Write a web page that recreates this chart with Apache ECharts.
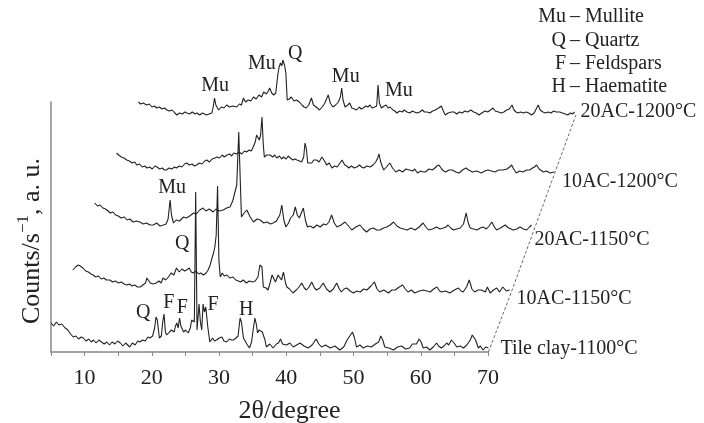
<!DOCTYPE html>
<html>
<head>
<meta charset="utf-8">
<title>XRD patterns</title>
<script src="https://cdn.jsdelivr.net/npm/echarts@6/dist/echarts.min.js"></script>
<style>
html,body{margin:0;padding:0;background:#fff}
#xrd{width:704px;height:423px}
</style>
</head>
<body>
<div id="xrd"></div>
<script>
// bottom axis ticks (2θ, degree)
var thetaTicks = [10, 20, 30, 40, 50, 60, 70];
var sampleNames = ['Tile clay-1100°C', '10AC-1150°C', '20AC-1150°C', '10AC-1200°C', '20AC-1200°C'];
// patterns are stacked: each one shifted right (degree) and up (counts)
var xShift = [0, 3.25, 6.5, 9.75, 13.0];
var yShift = [0, 57, 117, 177, 237];

// [2θ, counts], per sample
var tileClay1100 = [[5.0,29],[5.4,26],[5.8,30],[6.2,27],[6.6,28],[7.1,24],[7.5,22],[7.9,18],[8.3,15],[8.7,16],[9.1,13],[9.5,15],[9.8,14],[10.2,11],[10.6,13],[11.0,10],[11.3,12],[11.7,9],[12.1,12],[12.5,10],[12.9,8],[13.3,10],[13.7,7],[14.1,10],[14.5,8],[14.9,11],[15.3,9],[15.7,6],[16.1,9],[16.4,7],[16.7,5],[17.1,9],[17.5,7],[17.9,11],[18.2,10],[18.6,12],[19.0,11],[19.4,15],[19.7,14],[20.1,16],[20.4,24],[20.6,35],[20.8,32],[21.1,14],[21.4,16],[21.6,30],[21.8,38],[22.0,20],[22.2,17],[22.6,20],[22.9,22],[23.3,20],[23.5,26],[23.7,29],[23.9,24],[24.1,34],[24.3,26],[24.7,20],[25.0,22],[25.4,19],[25.7,24],[25.9,32],[26.3,30],[26.5,160],[26.7,22],[27.0,48],[27.2,30],[27.4,22],[27.6,48],[27.8,40],[28.0,45],[28.3,25],[28.6,10],[29.0,14],[29.3,11],[29.6,12],[30.0,14],[30.4,15],[30.7,11],[31.1,10],[31.5,13],[31.8,12],[32.1,12],[32.5,14],[32.8,16],[33.1,34],[33.3,30],[33.6,14],[33.8,12],[34.1,8],[34.5,4],[34.8,10],[35.1,25],[35.3,34],[35.5,28],[35.7,19],[35.9,22],[36.1,24],[36.4,20],[36.8,12],[37.0,5],[37.5,8],[38.0,4],[38.5,8],[38.8,9],[39.1,13],[39.4,8],[40.0,7],[40.5,9],[41.0,5],[41.5,7],[42.0,9],[42.6,6],[43.2,4],[43.8,7],[44.4,13],[44.8,8],[45.2,5],[45.8,7],[46.5,4],[47.2,6],[47.9,2],[48.5,5],[49.0,12],[49.4,16],[49.8,20],[50.1,14],[50.4,5],[50.9,7],[51.4,4],[52.0,6],[52.6,5],[53.2,8],[53.7,10],[54.0,16],[54.3,12],[54.6,5],[55.2,4],[55.9,2],[56.5,5],[57.1,6],[57.7,3],[58.3,4],[58.7,8],[58.9,10],[59.3,8],[59.7,13],[60.0,10],[60.3,4],[60.8,5],[61.3,2],[61.8,5],[62.3,9],[62.6,6],[63.0,4],[63.4,6],[63.8,9],[64.1,7],[64.5,12],[64.9,9],[65.3,5],[65.8,6],[66.3,4],[66.8,7],[67.3,12],[67.6,17],[67.8,19],[68.1,12],[68.5,4],[68.8,6],[69.2,2],[69.6,5],[70.0,4]];

var ac10_1150 = [[5.0,25],[5.4,28],[5.8,30],[6.1,29],[6.5,27],[6.9,24],[7.3,23],[7.7,21],[8.0,20],[8.4,18],[8.8,19],[9.2,16],[9.6,17],[10.0,15],[10.5,15],[10.9,13],[11.3,14],[11.8,12],[12.2,13],[12.6,11],[13.0,10],[13.4,11],[13.8,9],[14.2,10],[14.6,8],[15.0,8],[15.4,10],[15.8,12],[16.0,17],[16.2,19],[16.5,12],[16.9,11],[17.4,12],[17.8,14],[18.1,12],[18.4,17],[18.8,15],[19.2,18],[19.6,22],[20.0,20],[20.4,27],[20.8,23],[21.2,26],[21.6,24],[21.9,25],[22.3,27],[22.6,23],[22.9,22],[23.3,24],[23.7,21],[24.0,22],[24.4,20],[24.8,22],[25.1,25],[25.4,30],[25.6,35],[25.9,42],[26.1,48],[26.3,60],[26.5,109],[26.7,35],[26.9,18],[27.2,22],[27.5,19],[27.9,20],[28.3,17],[28.8,18],[29.2,15],[29.6,14],[29.9,13],[30.3,15],[30.8,12],[31.2,14],[31.7,13],[32.1,14],[32.5,18],[32.8,30],[33.1,28],[33.3,8],[33.7,7],[34.0,5],[34.3,12],[34.6,20],[34.8,22],[35.1,13],[35.3,15],[35.5,20],[35.7,18],[36.0,15],[36.3,23],[36.6,12],[36.8,8],[37.2,6],[37.7,2],[38.2,5],[38.6,8],[39.0,12],[39.4,7],[39.7,5],[40.1,8],[40.5,13],[40.9,7],[41.2,5],[41.7,7],[42.2,12],[42.7,6],[43.2,3],[43.7,6],[44.2,12],[44.6,6],[44.9,3],[45.3,6],[45.7,7],[46.2,4],[46.7,2],[47.2,4],[47.7,3],[48.2,6],[48.7,5],[49.3,9],[49.8,13],[50.2,6],[50.6,3],[51.2,5],[51.9,2],[52.4,5],[52.9,5],[53.5,8],[54.0,10],[54.4,6],[54.8,3],[55.3,5],[55.8,2],[56.5,4],[57.1,5],[57.6,4],[58.1,3],[58.6,6],[59.1,8],[59.5,4],[59.8,3],[60.4,4],[61.0,2],[61.7,5],[62.3,7],[62.7,4],[63.0,3],[63.5,8],[63.9,15],[64.3,6],[64.7,3],[65.2,5],[65.7,5],[66.3,3],[66.6,8],[67.0,2],[67.5,5],[68.0,7],[68.4,3],[68.9,8],[69.4,4],[69.9,5]];

var ac20_1150 = [[5.0,32],[5.4,29],[5.8,30],[6.2,27],[6.6,26],[7.0,24],[7.3,22],[7.7,23],[8.1,20],[8.5,19],[8.9,17],[9.4,18],[9.8,15],[10.2,16],[10.7,13],[11.2,14],[11.7,13],[12.2,11],[12.7,12],[13.2,10],[13.7,10],[14.2,12],[14.7,9],[15.2,10],[15.6,11],[15.9,16],[16.2,35],[16.4,20],[16.7,12],[17.1,15],[17.6,14],[18.2,18],[18.6,17],[19.1,19],[19.7,22],[20.1,21],[20.6,25],[21.1,27],[21.5,24],[22.0,26],[22.6,23],[23.0,26],[23.5,24],[24.1,25],[24.6,27],[25.1,28],[25.5,34],[25.8,42],[26.1,50],[26.4,103],[26.6,60],[26.8,18],[27.2,22],[27.6,25],[28.1,18],[28.6,13],[29.1,16],[29.6,15],[30.1,12],[30.6,13],[31.1,11],[31.5,12],[32.0,14],[32.5,20],[32.8,30],[33.1,15],[33.4,8],[33.8,12],[34.1,17],[34.5,20],[34.8,28],[35.1,20],[35.4,17],[35.7,22],[36.0,27],[36.3,15],[36.6,8],[37.0,9],[37.5,7],[38.0,10],[38.5,8],[39.0,11],[39.4,10],[39.8,13],[40.2,20],[40.6,12],[41.0,8],[41.6,10],[42.2,13],[42.7,9],[43.2,5],[43.8,8],[44.4,10],[44.9,6],[45.4,3],[45.9,6],[46.4,7],[46.9,5],[47.4,5],[47.9,7],[48.4,8],[48.9,10],[49.4,13],[49.9,9],[50.4,7],[50.9,6],[51.4,5],[52.0,7],[52.6,5],[53.2,8],[53.8,12],[54.2,8],[54.6,5],[55.2,6],[55.8,8],[56.3,6],[56.8,7],[57.2,8],[57.5,10],[57.9,7],[58.3,5],[58.8,6],[59.3,7],[59.8,11],[60.2,22],[60.5,12],[60.8,7],[61.3,6],[61.8,5],[62.3,7],[62.7,8],[63.2,6],[63.6,9],[64.0,13],[64.4,8],[64.7,5],[65.3,7],[66.0,10],[66.5,7],[67.2,5],[67.7,6],[68.2,8],[68.7,6],[69.2,5],[69.6,8],[69.9,10]];

var ac10_1200 = [[5.0,22],[5.3,20],[5.7,18],[6.1,17],[6.5,15],[6.9,14],[7.3,12],[7.7,13],[8.0,10],[8.4,11],[8.8,8],[9.2,9],[9.5,7],[9.9,8],[10.3,6],[10.7,9],[11.0,8],[11.4,6],[11.8,7],[12.1,5],[12.4,5],[12.8,7],[13.2,6],[13.6,8],[13.9,7],[14.3,9],[14.7,8],[15.1,11],[15.4,12],[15.8,10],[16.2,11],[16.6,9],[16.9,10],[17.3,12],[17.7,11],[18.1,14],[18.4,15],[18.8,13],[19.2,16],[19.6,17],[19.9,18],[20.3,17],[20.7,20],[21.0,18],[21.4,20],[21.8,21],[22.1,19],[22.4,22],[22.8,21],[23.2,23],[23.6,21],[24.0,24],[24.3,23],[24.7,25],[25.0,24],[25.3,28],[25.6,33],[25.8,40],[26.0,42],[26.2,35],[26.4,40],[26.6,58],[26.8,30],[26.95,18],[27.3,20],[27.8,20],[28.2,18],[28.5,20],[28.8,17],[29.2,19],[29.5,16],[29.8,18],[30.2,16],[30.5,19],[30.8,17],[31.2,15],[31.5,16],[31.8,15],[32.2,14],[32.5,13],[32.8,18],[33.0,32],[33.2,26],[33.4,12],[33.6,10],[34.0,12],[34.3,15],[34.7,15],[35.1,13],[35.5,18],[35.9,14],[36.2,10],[36.6,12],[37.0,7],[37.4,9],[37.8,8],[38.2,12],[38.5,15],[38.9,10],[39.2,9],[39.5,7],[39.9,9],[40.3,7],[40.7,8],[41.1,10],[41.4,8],[41.7,7],[42.2,9],[42.7,8],[43.1,10],[43.5,13],[43.8,17],[44.0,21],[44.2,14],[44.5,8],[44.7,5],[45.1,8],[45.6,12],[46.0,7],[46.5,3],[47.0,5],[47.5,3],[48.0,6],[48.5,5],[49.0,4],[49.3,6],[49.7,2],[50.2,4],[50.6,3],[50.9,3],[51.4,6],[51.9,5],[52.3,7],[52.6,9],[52.9,10],[53.3,6],[53.6,4],[53.9,3],[54.4,5],[54.9,5],[55.4,3],[55.9,2],[56.4,5],[56.9,7],[57.3,5],[57.9,3],[58.5,4],[59.2,2],[59.7,4],[60.2,5],[60.7,4],[61.2,3],[61.8,5],[62.4,5],[63.0,6],[63.4,8],[63.7,10],[64.0,6],[64.4,2],[64.9,4],[65.4,3],[65.9,5],[66.4,5],[66.8,7],[67.1,8],[67.4,10],[67.8,6],[68.4,3],[68.9,4],[69.4,2],[70.0,3]];

var ac20_1200 = [[5.0,13],[5.3,11],[5.7,12],[6.2,10],[6.6,11],[7.0,8],[7.4,9],[7.7,7],[8.1,8],[8.5,6],[8.9,7],[9.2,5],[9.6,4],[10.0,5],[10.4,2],[10.7,0],[11.1,2],[11.5,1],[11.9,3],[12.2,2],[12.6,1],[13.0,3],[13.4,1],[13.7,2],[14.1,0],[14.5,2],[14.8,1],[15.1,0],[15.5,1],[15.9,2],[16.1,8],[16.3,17],[16.5,10],[16.9,5],[17.3,8],[17.7,7],[18.1,10],[18.5,8],[19.0,9],[19.6,8],[20.0,11],[20.3,10],[20.6,17],[20.9,13],[21.3,15],[21.7,14],[22.1,18],[22.5,16],[22.9,20],[23.3,18],[23.6,23],[24.0,21],[24.3,24],[24.5,27],[24.8,22],[25.1,20],[25.4,22],[25.7,40],[25.9,48],[26.1,52],[26.3,49],[26.45,55],[26.7,50],[26.9,42],[27.1,15],[27.4,16],[27.7,18],[28.1,14],[28.5,15],[28.9,13],[29.3,10],[29.6,8],[29.9,7],[30.3,10],[30.5,12],[30.7,17],[31.0,10],[31.4,8],[31.9,5],[32.3,8],[32.7,12],[33.0,17],[33.2,20],[33.5,12],[33.9,8],[34.3,10],[34.7,13],[35.0,18],[35.2,27],[35.4,15],[35.7,8],[36.1,10],[36.4,12],[36.7,7],[37.1,6],[37.4,5],[37.8,8],[38.1,6],[38.4,7],[38.8,9],[39.1,8],[39.4,10],[39.7,7],[40.1,8],[40.4,9],[40.6,30],[40.8,12],[41.1,7],[41.5,9],[41.8,10],[42.1,7],[42.4,8],[42.8,5],[43.1,4],[43.4,2],[43.8,4],[44.2,3],[44.5,5],[44.9,3],[45.3,2],[45.7,4],[46.0,3],[46.4,2],[46.8,3],[47.2,5],[47.5,3],[47.9,3],[48.3,2],[48.7,4],[49.1,5],[49.6,7],[50.0,9],[50.3,4],[50.6,0],[51.0,2],[51.5,3],[51.9,3],[52.3,1],[52.7,3],[53.1,2],[53.5,4],[53.9,3],[54.4,5],[54.8,3],[55.2,2],[55.6,0],[56.0,2],[56.5,4],[56.9,3],[57.3,5],[57.7,7],[58.0,4],[58.5,3],[58.9,2],[59.3,3],[59.7,5],[60.1,6],[60.5,10],[60.8,5],[61.1,3],[61.4,2],[61.8,3],[62.2,2],[62.6,3],[63.0,2],[63.4,0],[63.8,2],[64.1,6],[64.4,10],[64.7,5],[65.1,3],[65.5,2],[65.9,3],[66.3,2],[66.7,4],[67.1,3],[67.6,3],[68.0,2],[68.4,1],[68.8,0],[69.2,2],[69.5,1],[69.8,3]];

var patterns = [tileClay1100, ac10_1150, ac20_1150, ac10_1200, ac20_1200];

// phase marks: [text, shifted 2θ, shifted counts]
var peakLabels = [
  ['Mu', 29.4, 266], ['Mu', 36.35, 288], ['Q', 41.3, 298], ['Mu', 48.8, 275], ['Mu', 56.7, 261],
  ['Mu', 23.0, 164], ['Q', 24.5, 108],
  ['Q', 18.7, 39], ['F', 22.5, 49], ['F', 24.5, 44], ['F', 29.1, 47], ['H', 34.0, 42]
];
var phaseKey = [['Mu', 'Mullite'], ['Q', 'Quartz'], ['F', 'Feldspars'], ['H', 'Haematite']];

// where the sample name sits relative to the end of its pattern
var nameOffset = [[12, 1], [7, 9], [3, 15], [8, 10], [6, 0]];

var serif = '"Liberation Serif", "DejaVu Serif", serif';
var ink = '#222';

let chart = echarts.init(document.getElementById('xrd'), null, {renderer: 'canvas'});

var series = patterns.map(function (p, i) {
  return {
    name: sampleNames[i],
    type: 'line',
    xAxisIndex: 1,
    yAxisIndex: 1,
    symbol: 'none',
    silent: true,
    lineStyle: {color: ink, width: 1.1},
    data: p.map(function (d) { return [d[0] + xShift[i], d[1] + yShift[i]]; }),
    endLabel: {
      show: true,
      formatter: sampleNames[i],
      distance: 0,
      offset: nameOffset[i],
      fontFamily: serif,
      fontSize: 20,
      color: ink
    }
  };
});

// dashed guide through the pattern ends
series.push({
  type: 'line',
  xAxisIndex: 1,
  yAxisIndex: 1,
  symbol: 'none',
  silent: true,
  lineStyle: {color: '#444', width: 0.8, type: [3, 2]},
  data: xShift.map(function (s, i) { return [70 + s, yShift[i]]; })
});

series.push({
  type: 'scatter',
  xAxisIndex: 1,
  yAxisIndex: 1,
  symbolSize: 1,
  silent: true,
  itemStyle: {color: 'rgba(255,255,255,0)'},
  label: {
    show: true,
    position: 'inside',
    formatter: function (p) { return p.value[2]; },
    fontFamily: serif,
    fontSize: 20,
    color: ink,
    opacity: 1,
    textBorderWidth: 0
  },
  data: peakLabels.map(function (l) { return [l[1], l[2], l[0]]; })
});

var keyTexts = [];
phaseKey.forEach(function (k, i) {
  keyTexts.push({type: 'text', x: 566, y: 17 + i * 23.3,
    style: {text: k[0], font: '20px ' + serif, fill: ink, align: 'right', verticalAlign: 'middle'}});
  keyTexts.push({type: 'text', x: 570, y: 17 + i * 23.3,
    style: {text: '– ' + k[1], font: '20px ' + serif, fill: ink, align: 'left', verticalAlign: 'middle'}});
});

chart.setOption({
  backgroundColor: '#fff',
  animation: false,
  grid: [
    {left: 51, top: 102, width: 437, height: 250, outerBoundsMode: 'none'},
    {left: 51, top: 0, width: 572, height: 352, outerBoundsMode: 'none'}
  ],
  xAxis: [
    {
      type: 'value', gridIndex: 0, min: 5, max: 70, interval: 5,
      name: '2θ/degree', nameLocation: 'middle', nameGap: 46,
      nameTextStyle: {fontFamily: serif, fontSize: 26, color: ink, padding: [0, 0, 0, 40]},
      axisLine: {lineStyle: {color: '#888', width: 1.5}},
      axisTick: {length: 4, lineStyle: {color: '#888'}},
      axisLabel: {
        margin: 15, fontFamily: serif, fontSize: 22, color: ink,
        formatter: function (v) { return thetaTicks.indexOf(v) >= 0 ? String(v) : ''; }
      },
      splitLine: {show: false}
    },
    {type: 'value', gridIndex: 1, min: 5, max: 90, show: false}
  ],
  yAxis: [
    {
      type: 'value', gridIndex: 0, min: 0, max: 1,
      name: '{a|Counts/s}{b|−1}{a|, a. u.}', nameLocation: 'middle', nameGap: 6,
      nameTextStyle: {
        color: ink, padding: [0, 28, 0, 0],
        rich: {
          a: {fontFamily: serif, fontSize: 26, color: ink, lineHeight: 30, verticalAlign: 'bottom'},
          b: {fontFamily: serif, fontSize: 17, color: ink, lineHeight: 30, verticalAlign: 'top'}
        }
      },
      axisLine: {show: true, lineStyle: {color: '#888', width: 1.5}},
      axisTick: {show: false},
      axisLabel: {show: false},
      splitLine: {show: false}
    },
    {type: 'value', gridIndex: 1, min: 0, max: 352, show: false}
  ],
  graphic: keyTexts,
  series: series
});
</script>
</body>
</html>
